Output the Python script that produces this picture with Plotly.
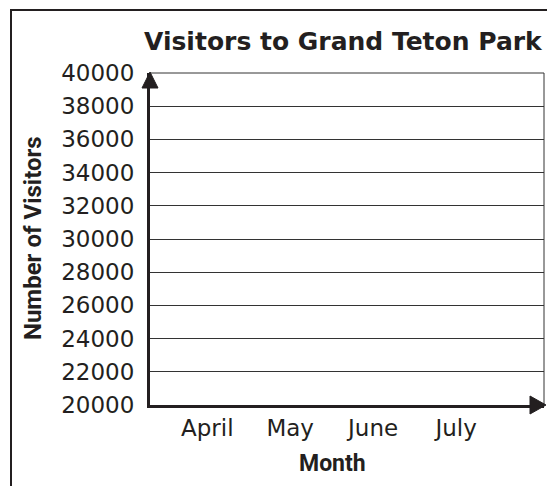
import plotly.graph_objects as go

# ---- data ----
months = ["April", "May", "June", "July"]
visitors = [None, None, None, None]  # empty chart: no values plotted
y_ticks = list(range(20000, 40001, 2000))
title_text = "Visitors to Grand Teton Park"
x_title = "Month"
y_title = "Number of Visitors"

# ---- layout geometry (pixels) ----
W, H = 547, 486
L, R, T, B = 150, 3, 73, 81
PW, PH = W - L - R, H - T - B
INK = "#231f20"
GRID = "#333333"

def px(x):
    return (x - L) / PW

def py(y):
    return (H - B - y) / PH

fig = go.Figure()
fig.add_trace(go.Scatter(x=months, y=visitors, mode="lines", showlegend=False,
                         hoverinfo="skip"))

tick_font = dict(family="DejaVu Sans", size=23, color=INK)

fig.update_layout(
    width=W, height=H,
    margin=dict(l=L, r=R, t=T, b=B, pad=0),
    paper_bgcolor="white", plot_bgcolor="white",
    showlegend=False,
    xaxis=dict(type="category", categoryarray=months, range=[-0.69, 4.06],
               showgrid=False, zeroline=False, showline=True, linewidth=3,
               linecolor=INK, ticks="", tickfont=tick_font, ticklabelstandoff=0,
               fixedrange=True),
    yaxis=dict(range=[20000, 40000], tickvals=y_ticks, tickformat="d",
               showgrid=True, gridcolor=GRID, gridwidth=1,
               zeroline=False, showline=True, linewidth=3, linecolor=INK,
               ticks="", tickfont=tick_font, ticklabelstandoff=8,
               fixedrange=True),
)

shapes = []
# outer frame (left and top edges visible)
shapes.append(dict(type="rect", xref="paper", yref="paper",
                   x0=px(11), y0=py(10), x1=px(W + 20), y1=py(H + 20),
                   line=dict(color=INK, width=2), layer="below"))
# top gridline and right border of grid
shapes.append(dict(type="line", xref="paper", yref="paper",
                   x0=0, x1=1, y0=1, y1=1, line=dict(color=GRID, width=1)))
shapes.append(dict(type="line", xref="paper", yref="paper",
                   x0=1, x1=1, y0=0, y1=1, line=dict(color=GRID, width=1)))
# y-axis arrowhead
shapes.append(dict(type="path", xref="paper", yref="paper",
                   path=f"M {px(142)} {py(88)} L {px(150)} {py(72)} L {px(158)} {py(88)} Z",
                   fillcolor=INK, line=dict(color=INK, width=1)))
# x-axis arrowhead
shapes.append(dict(type="path", xref="paper", yref="paper",
                   path=f"M {px(530)} {py(396)} L {px(546)} {py(405)} L {px(530)} {py(414)} Z",
                   fillcolor=INK, line=dict(color=INK, width=1)))
fig.update_layout(shapes=shapes)

annotations = [
    dict(text=f"<b>{title_text}</b>", xref="paper", yref="paper",
         x=px(343), y=py(42), xanchor="center", yanchor="middle", showarrow=False,
         font=dict(family="DejaVu Sans", size=25, color=INK)),
    dict(text=f"<b>{y_title}</b>", xref="paper", yref="paper",
         x=px(33), y=py(238), xanchor="center", yanchor="middle", showarrow=False,
         textangle=-90, font=dict(family="Liberation Sans Narrow, Roboto", size=24, color=INK)),
    dict(text=f"<b>{x_title}</b>", xref="paper", yref="paper",
         x=px(332), y=py(463), xanchor="center", yanchor="middle", showarrow=False,
         font=dict(family="Liberation Sans Narrow, Roboto", size=23, color=INK)),
]
fig.update_layout(annotations=annotations)

fig.write_html("out.html", config=dict(displayModeBar=False),
               post_script="document.body.style.margin='0';")
